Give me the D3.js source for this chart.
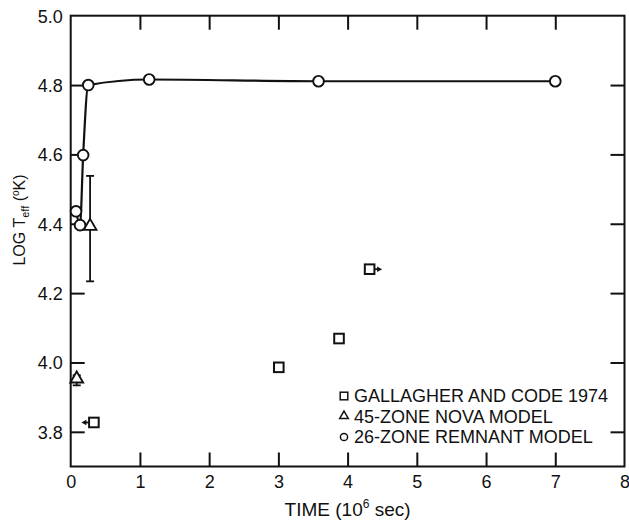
<!DOCTYPE html>
<html>
<head>
<meta charset="utf-8">
<script src="https://cdn.jsdelivr.net/npm/d3@7"></script>
<style>
  body { margin: 0; background: #fff; }
  svg { display: block; }
  text { font-family: "Liberation Sans", Arial, Helvetica, sans-serif; fill: #111; }
</style>
</head>
<body>
<svg id="chart" width="629" height="520"></svg>
<script>
// ---- data ----
const xTicks = [0, 1, 2, 3, 4, 5, 6, 7, 8];
const yTicks = [3.8, 4.0, 4.2, 4.4, 4.6, 4.8, 5.0];

// 26-zone remnant model (circles, joined by a curve)
const remnantTime = [0.077, 0.135, 0.18, 0.254, 1.134, 3.58, 7.0];
const remnantLogT = [4.436, 4.396, 4.598, 4.80, 4.816, 4.811, 4.811];

// 45-zone nova model (triangles with error bars)
const novaTime = [0.28, 0.087];
const novaLogT = [4.39, 3.95];
const novaLow  = [4.234, 3.934];
const novaHigh = [4.538, 3.963];

// Gallagher and Code 1974 (squares); arrow: -1 left, +1 right, 0 none
const gcTime  = [0.335, 3.006, 3.876, 4.318];
const gcLogT  = [3.827, 3.986, 4.069, 4.269];
const gcArrow = [-1, 0, 0, 1];

const legendLabels = ["GALLAGHER AND CODE 1974", "45-ZONE NOVA MODEL", "26-ZONE REMNANT MODEL"];

// ---- layout ----
const svg = d3.select("#chart");
const L = 70.7, R = 624.5, T = 15.7, B = 466.5;
const x = d3.scaleLinear().domain([0, 8]).range([L, R]);
const y = d3.scaleLinear().domain([3.7, 5.0]).range([B, T]);
const tickLen = 14;
const fs = 18;

// frame
svg.append("rect")
  .attr("x", L).attr("y", T).attr("width", R - L).attr("height", B - T)
  .attr("fill", "none").attr("stroke", "#111").attr("stroke-width", 2);

// axes (inward ticks)
const axB = d3.axisBottom(x).tickValues(xTicks).tickSize(-tickLen).tickPadding(9).tickFormat(d3.format("d"));
const axT = d3.axisTop(x).tickValues(xTicks.slice(1, -1)).tickSize(-tickLen).tickFormat("");
const axL = d3.axisLeft(y).tickValues(yTicks).tickSize(-tickLen).tickPadding(8).tickFormat(d3.format(".1f"));
const axR = d3.axisRight(y).tickValues(yTicks.slice(0, -1)).tickSize(-tickLen).tickFormat("");

function styleAxis(g) {
  g.select(".domain").remove();
  g.selectAll(".tick line").attr("stroke", "#111").attr("stroke-width", 2);
  g.selectAll(".tick text").attr("font-size", fs).attr("fill", "#111")
    .attr("font-family", '"Liberation Sans", Arial, sans-serif');
}
const gB = svg.append("g").attr("transform", `translate(0,${B})`).call(axB).call(styleAxis);
gB.selectAll(".tick").filter(d => d === 0 || d === 8).select("line").remove();
svg.append("g").attr("transform", `translate(0,${T})`).call(axT).call(styleAxis);
const gL = svg.append("g").attr("transform", `translate(${L},0)`).call(axL).call(styleAxis);
gL.selectAll(".tick").filter(d => d === 5.0).select("line").remove();
gL.selectAll(".tick text").attr("dy", "0.36em");
svg.append("g").attr("transform", `translate(${R},0)`).call(axR).call(styleAxis);

// axis titles
const xt = svg.append("text").attr("x", (L + R) / 2).attr("y", 516)
  .attr("text-anchor", "middle").attr("font-size", 19);
xt.append("tspan").text("TIME (10");
xt.append("tspan").attr("font-size", 12).attr("dy", -8).text("6");
xt.append("tspan").attr("dy", 8).text(" sec)");

const yt = svg.append("text").attr("transform", "translate(25,220) rotate(-90)")
  .attr("text-anchor", "middle").attr("font-size", 16);
yt.append("tspan").text("LOG T");
yt.append("tspan").attr("font-size", 11).attr("dy", 4).text("eff");
yt.append("tspan").attr("dy", -4).text(" (");
yt.append("tspan").attr("font-size", 10).attr("dy", -6).text("o");
yt.append("tspan").attr("dy", 6).text("K)");

// remnant curve
const remnant = remnantTime.map((t, i) => ({ t, v: remnantLogT[i] }));
svg.append("path").datum(remnant)
  .attr("d", d3.line().x(d => x(d.t)).y(d => y(d.v)).curve(d3.curveMonotoneX))
  .attr("fill", "none").attr("stroke", "#111").attr("stroke-width", 2.2);

// nova error bars
const nova = novaTime.map((t, i) => ({ t, v: novaLogT[i], lo: novaLow[i], hi: novaHigh[i] }));
const eb = svg.append("g").attr("stroke", "#111").attr("stroke-width", 1.8);
nova.forEach(d => {
  eb.append("line").attr("x1", x(d.t)).attr("x2", x(d.t)).attr("y1", y(d.lo)).attr("y2", y(d.hi));
  [d.lo, d.hi].forEach(v => eb.append("line")
    .attr("x1", x(d.t) - 4).attr("x2", x(d.t) + 4).attr("y1", y(v)).attr("y2", y(v)));
});

// symbols
const sym = (type, size) => d3.symbol().type(type).size(size)();
function marker(g, type, cx, cy, size) {
  g.append("path").attr("d", sym(type, size))
    .attr("transform", `translate(${cx},${cy})`)
    .attr("fill", "#fff").attr("stroke", "#111").attr("stroke-width", 1.9);
}
const mk = svg.append("g");
nova.forEach(d => marker(mk, d3.symbolTriangle, x(d.t), y(d.v) - 1, 70));
remnant.forEach(d => marker(mk, d3.symbolCircle, x(d.t), y(d.v), 90));

// Gallagher & Code squares with arrows
const gc = gcTime.map((t, i) => ({ t, v: gcLogT[i], a: gcArrow[i] }));
gc.forEach(d => {
  const cx = x(d.t), cy = y(d.v);
  if (d.a !== 0) {
    const s = d.a;
    const x0 = cx + s * 5, x1 = cx + s * 12.5;
    mk.append("line").attr("x1", x0).attr("x2", x1 - s * 3).attr("y1", cy).attr("y2", cy)
      .attr("stroke", "#111").attr("stroke-width", 1.8);
    mk.append("path").attr("d", `M${x1},${cy}L${x1 - s * 5},${cy - 2.8}L${x1 - s * 5},${cy + 2.8}Z`)
      .attr("fill", "#111");
  }
  mk.append("rect").attr("x", cx - 4.8).attr("y", cy - 4.8).attr("width", 9.6).attr("height", 9.6)
    .attr("fill", "#fff").attr("stroke", "#111").attr("stroke-width", 2);
});

// legend
const lg = svg.append("g");
const legY = [396, 416.5, 437];
const lx = 344;
lg.append("rect").attr("x", lx - 3.8).attr("y", legY[0] - 3.8).attr("width", 7.6).attr("height", 7.6)
  .attr("fill", "#fff").attr("stroke", "#111").attr("stroke-width", 1.5);
lg.append("path").attr("d", sym(d3.symbolTriangle, 32)).attr("transform", `translate(${lx},${legY[1] - 0.5})`)
  .attr("fill", "#fff").attr("stroke", "#111").attr("stroke-width", 1.5);
lg.append("circle").attr("cx", lx).attr("cy", legY[2]).attr("r", 3.6)
  .attr("fill", "#fff").attr("stroke", "#111").attr("stroke-width", 1.5);
legendLabels.forEach((s, i) => {
  lg.append("text").attr("x", 354).attr("y", legY[i]).attr("dy", "0.36em")
    .attr("font-size", fs).text(s);
});
</script>
</body>
</html>
